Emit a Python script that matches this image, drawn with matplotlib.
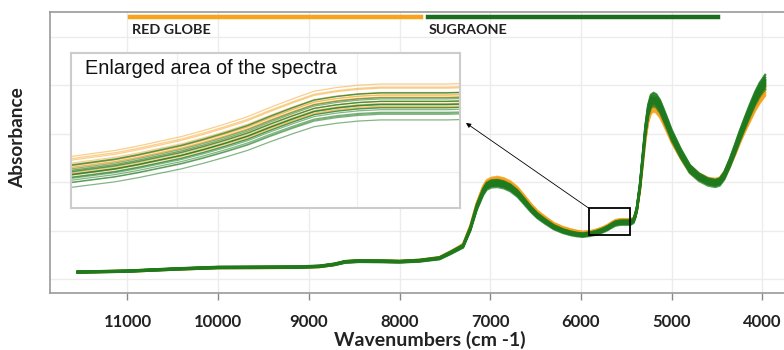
import numpy as np
import matplotlib
matplotlib.use('Agg')
import matplotlib.pyplot as plt
from matplotlib.patches import Rectangle

plt.rcParams['font.family'] = ['Lato', 'DejaVu Sans']

# --- data ---
wavenumbers = [11550, 11000, 10450, 10000, 9500, 9100, 8880, 8720, 8600, 8450,
               8200, 8000, 7780, 7560, 7440, 7380, 7300, 7220, 7150, 7080,
               7040, 6990, 6920, 6850, 6780, 6700, 6640, 6550, 6480, 6400,
               6300, 6200, 6120, 6050, 5980,
               5900, 5875, 5850, 5825, 5800, 5775, 5750, 5725, 5700, 5675,
               5650, 5625, 5600, 5575, 5550, 5525, 5500, 5475, 5450,
               5420, 5400, 5383, 5350, 5320,
               5290, 5260, 5230, 5200, 5170, 5130, 5100, 5050, 5000, 4900,
               4800, 4700, 4600, 4520, 4470, 4420, 4360, 4300, 4250, 4200,
               4140, 4080, 4030, 3970]

sugraone_mean = [0.072, 0.082, 0.105, 0.120, 0.122, 0.124, 0.132, 0.152, 0.178, 0.186,
                 0.184, 0.180, 0.190, 0.215, 0.270, 0.300, 0.340, 0.520, 0.740, 0.900,
                 0.960, 0.985, 0.990, 0.975, 0.945, 0.885, 0.820, 0.720, 0.655, 0.600,
                 0.537, 0.497, 0.475, 0.462, 0.455,
                 0.465, 0.470, 0.475, 0.482, 0.490, 0.498, 0.508, 0.519, 0.531, 0.546,
                 0.560, 0.573, 0.579, 0.583, 0.585, 0.585, 0.585, 0.585, 0.586,
                 0.605, 0.660, 0.730, 0.960, 1.250,
                 1.540, 1.740, 1.840, 1.860, 1.845, 1.790, 1.725, 1.610, 1.490, 1.300,
                 1.140, 1.055, 1.005, 0.990, 1.005, 1.070, 1.200, 1.350, 1.480, 1.600,
                 1.740, 1.870, 1.960, 2.040]

red_globe_mean = [0.072, 0.081, 0.103, 0.118, 0.119, 0.120, 0.129, 0.150, 0.177, 0.186,
                  0.184, 0.180, 0.191, 0.218, 0.275, 0.305, 0.350, 0.535, 0.760, 0.925,
                  0.985, 1.010, 1.020, 1.005, 0.975, 0.915, 0.850, 0.748, 0.680, 0.624,
                  0.559, 0.519, 0.497, 0.482, 0.472,
                  0.478, 0.483, 0.488, 0.495, 0.503, 0.511, 0.521, 0.532, 0.544, 0.559,
                  0.573, 0.586, 0.592, 0.596, 0.598, 0.598, 0.598, 0.598, 0.599,
                  0.612, 0.660, 0.725, 0.930, 1.200,
                  1.470, 1.660, 1.760, 1.780, 1.770, 1.720, 1.665, 1.560, 1.450, 1.280,
                  1.130, 1.055, 1.010, 1.000, 1.012, 1.070, 1.190, 1.320, 1.440, 1.550,
                  1.670, 1.790, 1.870, 1.950]

# per-sample scale and offset
red_globe_scale = [0.968, 0.978, 0.986, 0.991, 0.996, 1.000, 1.004, 1.009, 1.014, 1.021, 1.028, 1.035]
red_globe_offset = [0.004, -0.003, 0.002, -0.005, 0.006, 0.000, -0.002, 0.003, -0.004, 0.005, -0.001, 0.002]
sugraone_scale = [0.963, 0.970, 0.976, 0.981, 0.986, 0.990, 0.994, 0.997, 1.000,
                  1.003, 1.007, 1.011, 1.016, 1.021, 1.027, 1.035]
sugraone_offset = [-0.004, 0.005, -0.002, 0.003, -0.006, 0.001, 0.004, -0.003, 0.006,
                   -0.001, 0.002, -0.005, 0.003, -0.002, 0.005, 0.000]

xticks = [11000, 10000, 9000, 8000, 7000, 6000, 5000, 4000]

ORANGE = '#F5A01A'
GREEN = '#1E7A1E'

wn = np.array(wavenumbers)
rg = np.array(red_globe_mean)
sg = np.array(sugraone_mean)

fig = plt.figure(figsize=(7.84, 3.5), dpi=100)
ax = fig.add_axes([50/784, 57/350, 734/784, 281/350])

for s, o in zip(red_globe_scale, red_globe_offset):
    ax.plot(wn, rg * s + o, color=ORANGE, lw=1.5, alpha=0.8, solid_joinstyle='round')
for s, o in zip(sugraone_scale, sugraone_offset):
    ax.plot(wn, sg * s + o, color=GREEN, lw=1.5, alpha=0.75, solid_joinstyle='round')

ax.set_xlim(11854, 3762)
ax.set_ylim(-0.144, 2.758)
ax.set_xticks(xticks)
ax.set_xticklabels([str(t) for t in xticks], fontsize=12, fontweight='bold', color='#222222')
ax.set_yticks([0, 0.5, 1.0, 1.5, 2.0, 2.5])
ax.tick_params(axis='y', length=0, labelleft=False)
ax.tick_params(axis='x', length=5, width=1, color='#888888', pad=10)
ax.grid(color='#ececec', lw=1)
ax.set_axisbelow(True)
for side in ['left', 'top', 'bottom']:
    ax.spines[side].set_color('#999999')
    ax.spines[side].set_linewidth(1.2)
ax.spines['right'].set_visible(False)

# zoom rectangle
ax.add_patch(Rectangle((5914, 0.454), 5460 - 5914, 0.732 - 0.454,
                       fill=False, edgecolor='black', lw=1.3, zorder=5))
ax.annotate('', xy=(466/784, 1 - 123/350), xycoords='figure fraction',
            xytext=(5914, 0.732), textcoords='data',
            arrowprops=dict(arrowstyle='-|>', color='black', lw=0.6,
                            mutation_scale=7, shrinkA=0, shrinkB=0))

# inset with enlarged area
axi = fig.add_axes([71/784, 142/350, 389/784, 155/350])
for s, o in zip(red_globe_scale, red_globe_offset):
    axi.plot(wn, rg * s + o, color=ORANGE, lw=0.9, alpha=0.5)
for s, o in zip(sugraone_scale, sugraone_offset):
    axi.plot(wn, sg * s + o, color=GREEN, lw=0.9, alpha=0.55)
axi.set_xlim(5900, 5460)
axi.set_ylim(0.4085, 0.674)
axi.set_xticks([5780, 5577])
axi.set_yticks([0.47, 0.62])
axi.tick_params(length=0, labelleft=False, labelbottom=False)
axi.grid(color='#f0f0f0', lw=1)
for sp in axi.spines.values():
    sp.set_color('#cccccc')
    sp.set_linewidth(1.5)
axi.text(0.037, 0.90, 'Enlarged area of the spectra', transform=axi.transAxes,
         fontsize=14.3, family='Liberation Sans', va='center', ha='left', color='#111111')

# group bars at the top
fig.add_artist(plt.Line2D([130/784, 421/784], [1 - 17/350] * 2, color='#F9A31B', lw=3.2))
fig.add_artist(plt.Line2D([428/784, 718/784], [1 - 17/350] * 2, color='#1B6E1B', lw=3.2))
fig.text(132/784, 1 - 30/350, 'RED GLOBE', fontsize=10.4, fontweight='bold', color='#222222', va='center')
fig.text(429/784, 1 - 30/350, 'SUGRAONE', fontsize=10.4, fontweight='bold', color='#222222', va='center')

fig.text(430/784, 1 - 340/350, 'Wavenumbers (cm -1)', fontsize=14, fontweight='bold',
         color='#222222', ha='center', va='center')
fig.text(18/784, 1 - 138/350, 'Absorbance', fontsize=13.7, fontweight='bold',
         color='#222222', ha='center', va='center', rotation=90)

fig.savefig('out.png', dpi=100)
